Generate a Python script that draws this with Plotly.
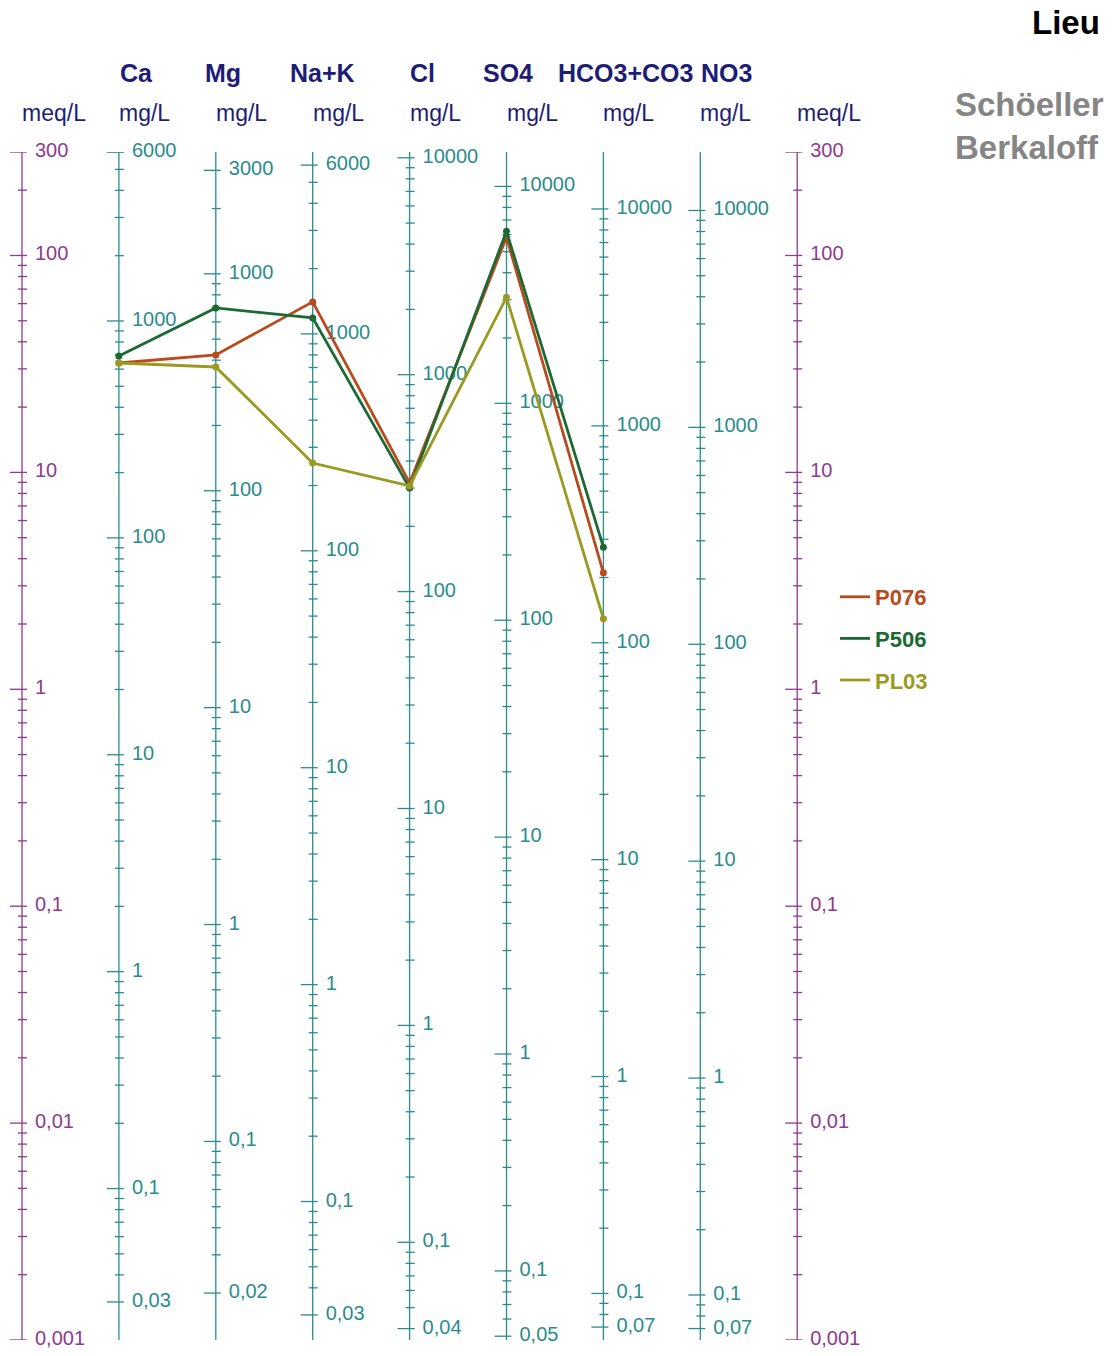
import math
import plotly.graph_objects as go

# ---- figure geometry (pixels) ----
W, H = 1119, 1356
TOP, BOTTOM = 152, 1340          # vertical extent of the log scale
X0_PX, STEP_PX = 22, 96.9        # first axis position and spacing between axes

FONT = "Liberation Sans, Arial, sans-serif"
MEQ_COLOR = "#8E3A8E"
ION_COLOR = "#2A8C8C"
TITLE_COLOR = "#1D1D78"

# ---- scale definitions ----
meq_min, meq_max = 0.001, 300
meq_labels = [300, 100, 10, 1, 0.1, 0.01, 0.001]

ions = ["Ca", "Mg", "Na+K", "Cl", "SO4", "HCO3+CO3", "NO3"]
eq_weights = [20.04, 12.15, 22.99, 35.45, 48.03, 61.02, 62.00]   # mg per meq
ion_labels = [
    [6000, 1000, 100, 10, 1, 0.1, 0.03],
    [3000, 1000, 100, 10, 1, 0.1, 0.02],
    [6000, 1000, 100, 10, 1, 0.1, 0.03],
    [10000, 1000, 100, 10, 1, 0.1, 0.04],
    [10000, 1000, 100, 10, 1, 0.1, 0.05],
    [10000, 1000, 100, 10, 1, 0.1, 0.07],
    [10000, 1000, 100, 10, 1, 0.1, 0.07],
]

# ---- samples: concentrations in mg/L for Ca, Mg, Na+K, Cl, SO4, HCO3+CO3 ----
samples = ["P076", "P506", "PL03"]
sample_colors = ["#B84A1C", "#1B6A34", "#9A9A22"]
p076 = [640, 423, 1405, 317, 5830, 210]
p506 = [690, 696, 1185, 300, 6210, 276]
pl03 = [640, 372, 254, 307, 3080, 129]
sample_values = [p076, p506, pl03]


def px_x(px):
    return px / W


def px_y(py):
    return (BOTTOM - py) / (BOTTOM - TOP)


def dx(px):
    return px / STEP_PX


def fmt(v):
    s = ("%.3f" % v).rstrip("0").rstrip(".")
    return s.replace(".", ",")


def tick_values(lo, hi):
    vals = []
    for k in range(math.floor(math.log10(lo)) - 1, math.ceil(math.log10(hi)) + 1):
        for m in range(1, 10):
            v = round(m * 10 ** k, 6)
            if lo * (1 - 1e-9) <= v <= hi * (1 + 1e-9):
                vals.append(v)
    return vals


fig = go.Figure()


def add_scale(xpos, eqw, labels, color):
    lo, hi = meq_min * eqw, meq_max * eqw
    # axis line
    fig.add_trace(go.Scatter(x=[xpos, xpos], y=[meq_min, meq_max], mode="lines",
                             line=dict(color=color, width=1.3), hoverinfo="skip",
                             showlegend=False, cliponaxis=False))
    # tick marks crossing the axis
    tx, ty = [], []
    for v in tick_values(lo, hi):
        major = any(math.isclose(v, L, rel_tol=1e-6) for L in labels)
        left = 12 if major else 4
        tx += [xpos - dx(left), xpos + dx(5), None]
        ty += [v / eqw, v / eqw, None]
    fig.add_trace(go.Scatter(x=tx, y=ty, mode="lines",
                             line=dict(color=color, width=1.3), hoverinfo="skip",
                             showlegend=False, cliponaxis=False))
    # tick labels
    fig.add_trace(go.Scatter(x=[xpos + dx(13)] * len(labels), y=[L / eqw for L in labels],
                             mode="text", text=[fmt(L) for L in labels],
                             textposition="middle right",
                             textfont=dict(family=FONT, size=20, color=color),
                             hoverinfo="skip", showlegend=False, cliponaxis=False))


n_axes = len(ions) + 2
add_scale(0, 1.0, meq_labels, MEQ_COLOR)
for i, (eqw, labs) in enumerate(zip(eq_weights, ion_labels)):
    add_scale(i + 1, eqw, labs, ION_COLOR)
add_scale(n_axes - 1, 1.0, meq_labels, MEQ_COLOR)

# ---- sample profiles (converted to meq/L) ----
for name, vals, col in zip(samples, sample_values, sample_colors):
    xs = list(range(1, len(vals) + 1))
    ys = [v / w for v, w in zip(vals, eq_weights)]
    fig.add_trace(go.Scatter(x=xs, y=ys, mode="lines+markers", name=name,
                             legendgroup=name, showlegend=False,
                             line=dict(color=col, width=2.8),
                             marker=dict(color=col, size=7),
                             cliponaxis=False))
for name, col in zip(samples, sample_colors):
    fig.add_trace(go.Scatter(x=[None], y=[None], mode="lines", legendgroup=name,
                             name="<b><span style='color:%s'>%s</span></b>" % (col, name),
                             line=dict(color=col, width=2.8)))

# ---- headers ----
annotations = []
title_centers = [136, 223, 322, 423, 508, 625, 726]
for name, cx in zip(ions, title_centers):
    annotations.append(dict(text="<b>%s</b>" % name, x=px_x(cx), y=px_y(73),
                            xanchor="center", yanchor="middle",
                            font=dict(family=FONT, size=25, color=TITLE_COLOR)))
units = ["meq/L"] + ["mg/L"] * len(ions) + ["meq/L"]
for j, u in enumerate(units):
    annotations.append(dict(text=u, x=px_x(X0_PX + j * STEP_PX - 2), y=px_y(113),
                            xanchor="left", yanchor="middle",
                            font=dict(family=FONT, size=23, color=TITLE_COLOR)))
annotations.append(dict(text="<b>Lieu</b>", x=px_x(1102), y=px_y(22),
                        xanchor="right", yanchor="middle",
                        font=dict(family=FONT, size=33, color="#000000")))
annotations.append(dict(text="<b>Schöeller</b>", x=px_x(953), y=px_y(105),
                        xanchor="left", yanchor="middle",
                        font=dict(family=FONT, size=33, color="#858585")))
annotations.append(dict(text="<b>Berkaloff</b>", x=px_x(953), y=px_y(148),
                        xanchor="left", yanchor="middle",
                        font=dict(family=FONT, size=33, color="#858585")))
for a in annotations:
    a.update(xref="paper", yref="paper", showarrow=False)

fig.update_layout(
    width=W, height=H,
    margin=dict(l=0, r=0, t=TOP, b=H - BOTTOM, pad=0),
    paper_bgcolor="white", plot_bgcolor="white",
    xaxis=dict(range=[-X0_PX / STEP_PX, (W - X0_PX) / STEP_PX], visible=False, fixedrange=True),
    yaxis=dict(type="log", range=[math.log10(meq_min), math.log10(meq_max)],
               visible=False, fixedrange=True),
    showlegend=True,
    legend=dict(x=px_x(835), y=px_y(576), xanchor="left", yanchor="top",
                font=dict(family=FONT, size=22), tracegroupgap=10,
                bgcolor="rgba(0,0,0,0)"),
    annotations=annotations,
)

fig.write_html("out.html")
